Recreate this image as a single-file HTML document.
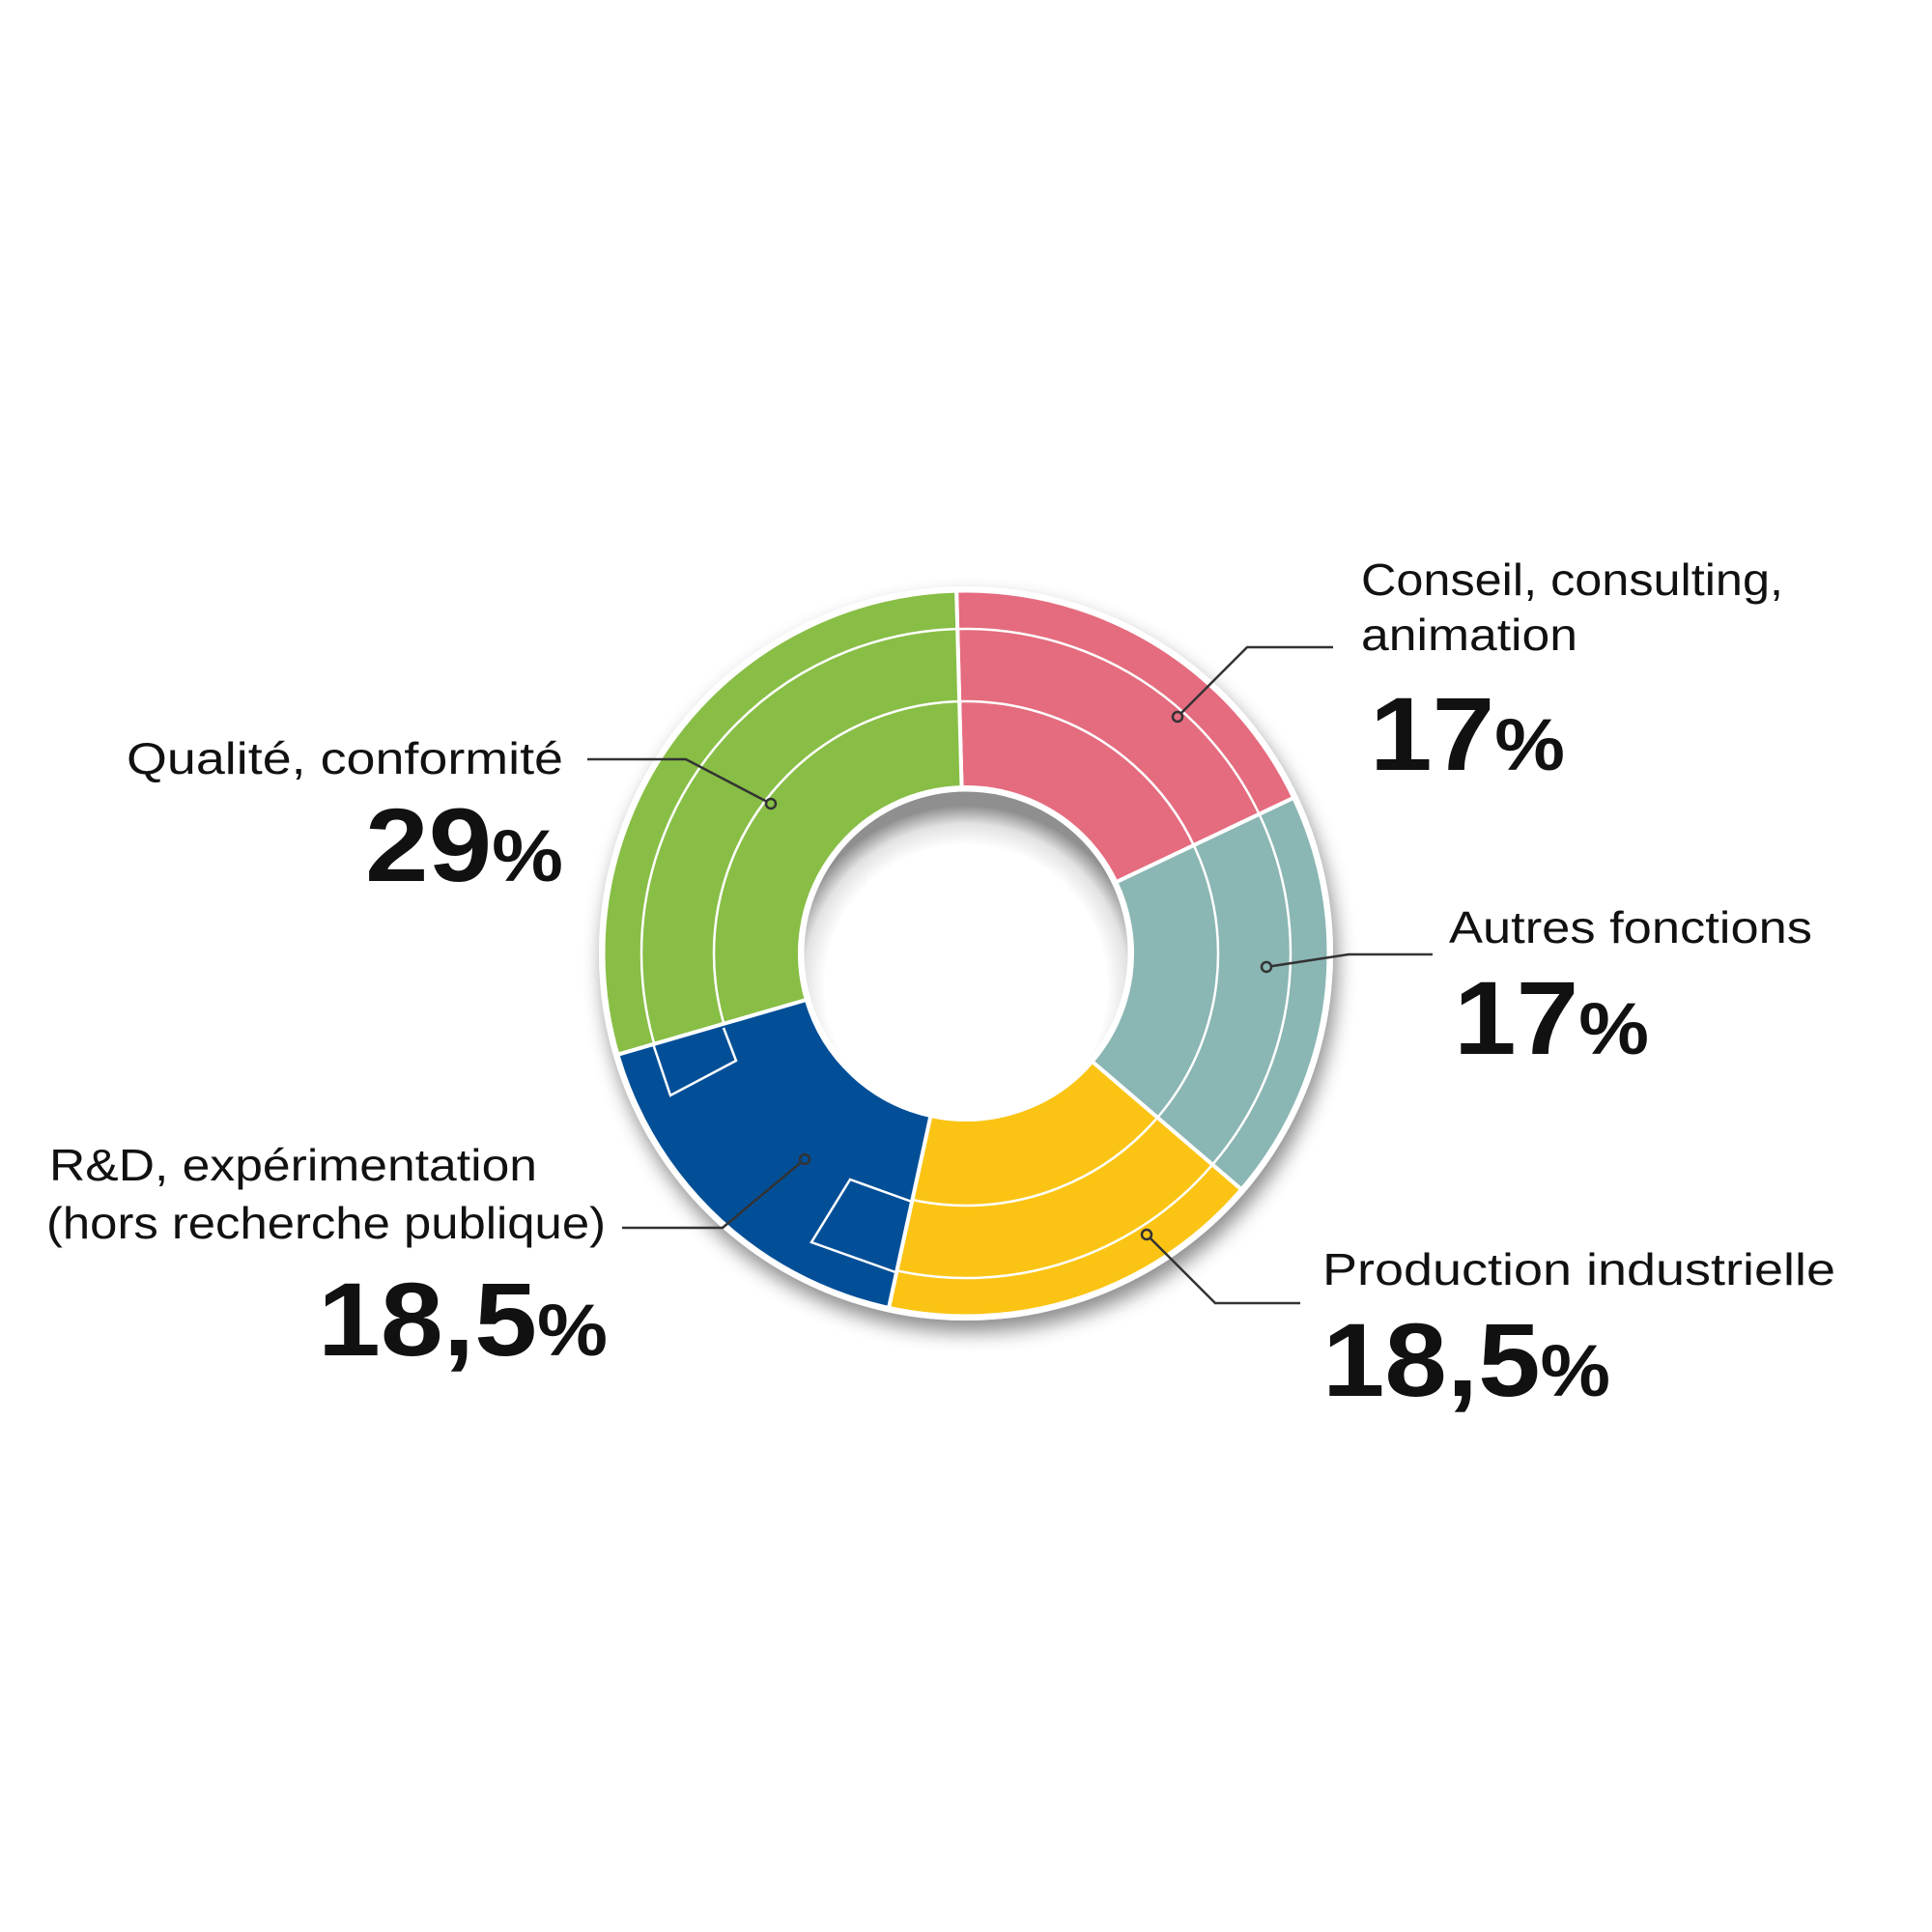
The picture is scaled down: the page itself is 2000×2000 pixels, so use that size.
<!DOCTYPE html>
<html><head><meta charset="utf-8"><style>
html,body{margin:0;padding:0;background:#fff}
svg{display:block}
text{font-family:"Liberation Sans",sans-serif;fill:#111}
.l{font-size:46px}
.b{font-size:108px;font-weight:bold}
</style></head><body>
<svg width="2000" height="2000" viewBox="0 0 2000 2000" xmlns="http://www.w3.org/2000/svg">
<defs>
<filter id="sh" x="-20%" y="-20%" width="140%" height="140%">
<feDropShadow dx="4" dy="12" stdDeviation="10" flood-color="#000" flood-opacity="0.45"/>
</filter>
<radialGradient id="hole" cx="50%" cy="60%" r="55%">
<stop offset="0.78" stop-color="#fff"/>
<stop offset="0.9" stop-color="#e2e2e2"/>
<stop offset="1" stop-color="#8f8f8f"/>
</radialGradient>
</defs>
<g filter="url(#sh)">
<circle cx="1000" cy="987" r="380" fill="#fff"/>
</g>
<g stroke="#fff" stroke-width="4" stroke-linejoin="round">
<path d="M990.1,611.1 A376,376 0 0 1 1339.6,825.7 L1155.4,913.2 A172,172 0 0 0 995.5,815.1 Z" fill="#E56B7E"/>
<path d="M1339.6,825.7 A376,376 0 0 1 1285.5,1231.7 L1130.6,1098.9 A172,172 0 0 0 1155.4,913.2 Z" fill="#8AB6B3"/>
<path d="M1285.5,1231.7 A376,376 0 0 1 919.9,1354.4 L963.4,1155.0 A172,172 0 0 0 1130.6,1098.9 Z" fill="#FBC415"/>
<path d="M638.9,1091.9 A376,376 0 0 1 990.1,611.1 L995.5,815.1 A172,172 0 0 0 834.8,1035.0 Z" fill="#88BE45"/>
</g>
<g fill="none" stroke="#fff" stroke-width="2.5">
<circle cx="1000" cy="987" r="261"/>
<circle cx="1000" cy="987" r="336"/>
</g>
<path d="M919.9,1354.4 A376,376 0 0 1 638.9,1091.9 L834.8,1035.0 A172,172 0 0 0 963.4,1155.0 Z" fill="#024F98" stroke="#fff" stroke-width="4" stroke-linejoin="round"/>
<g fill="none" stroke="#fff" stroke-width="2.5">
<polyline points="676.5,1082 694,1134 762,1098 749,1064"/>
<polyline points="944,1244 880,1221 840,1286 927,1317"/>
</g>
<circle cx="1000" cy="987" r="376" fill="none" stroke="#fff" stroke-width="5"/>
<circle cx="1000" cy="987" r="170" fill="url(#hole)" stroke="#fff" stroke-width="5"/>
<g fill="none" stroke="#333" stroke-width="2.5">
<polyline points="1219,742 1291,670 1380,670"/>
<polyline points="798,832 710,786 608,786"/>
<polyline points="1311,1001 1396,988 1483,988"/>
<polyline points="833,1200 748,1271 644,1271"/>
<polyline points="1187,1278 1258,1349 1346,1349"/>
</g>
<g stroke="#333" stroke-width="2.5">
<circle cx="1219" cy="742" r="5" fill="#E56B7E"/>
<circle cx="798" cy="832" r="5" fill="#88BE45"/>
<circle cx="1311" cy="1001" r="5" fill="#8AB6B3"/>
<circle cx="833" cy="1200" r="5" fill="#024F98"/>
<circle cx="1187" cy="1278" r="5" fill="#FBC415"/>
</g>
<text class="l" x="1409" y="616" textLength="437" lengthAdjust="spacingAndGlyphs">Conseil, consulting,</text>
<text class="l" x="1409" y="673" textLength="224" lengthAdjust="spacingAndGlyphs">animation</text>
<text class="b" x="1418" y="797" textLength="202" lengthAdjust="spacingAndGlyphs">17<tspan font-size="76">%</tspan></text>
<text class="l" x="131" y="801" textLength="452" lengthAdjust="spacingAndGlyphs">Qualité, conformité</text>
<text class="b" x="378" y="912" textLength="205" lengthAdjust="spacingAndGlyphs">29<tspan font-size="76">%</tspan></text>
<text class="l" x="1500" y="976" textLength="376" lengthAdjust="spacingAndGlyphs">Autres fonctions</text>
<text class="b" x="1505" y="1091" textLength="202" lengthAdjust="spacingAndGlyphs">17<tspan font-size="76">%</tspan></text>
<text class="l" x="51" y="1222" textLength="505" lengthAdjust="spacingAndGlyphs">R&amp;D, expérimentation</text>
<text class="l" x="48" y="1282" textLength="579" lengthAdjust="spacingAndGlyphs">(hors recherche publique)</text>
<text class="b" x="329" y="1403" textLength="300" lengthAdjust="spacingAndGlyphs">18,5<tspan font-size="76">%</tspan></text>
<text class="l" x="1369" y="1330" textLength="531" lengthAdjust="spacingAndGlyphs">Production industrielle</text>
<text class="b" x="1369" y="1445" textLength="298" lengthAdjust="spacingAndGlyphs">18,5<tspan font-size="76">%</tspan></text>
</svg>
</body></html>
